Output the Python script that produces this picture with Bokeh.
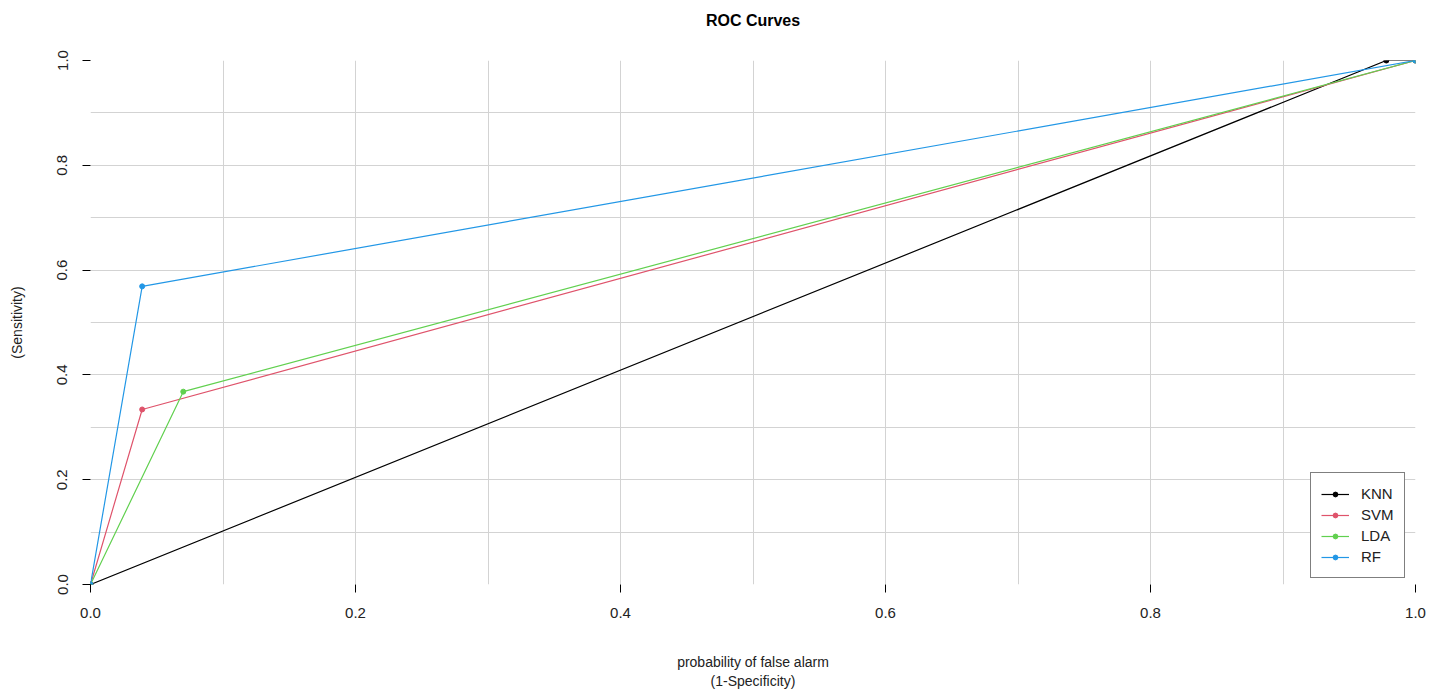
from bokeh.plotting import figure
from bokeh.models import Range1d, FixedTicker, PrintfTickFormatter, Legend, Title
from bokeh.embed import file_html
from bokeh.resources import INLINE

# Data (FPR, TPR) for each model
knn_fpr = [0.0, 0.978, 1.0]
knn_tpr = [0.0, 1.0, 1.0]
svm_fpr = [0.0, 0.039, 1.0]
svm_tpr = [0.0, 0.334, 1.0]
lda_fpr = [0.0, 0.070, 1.0]
lda_tpr = [0.0, 0.368, 1.0]
rf_fpr = [0.0, 0.039, 1.0]
rf_tpr = [0.0, 0.569, 1.0]

names = ["KNN", "SVM", "LDA", "RF"]
colors = ["#000000", "#DF536B", "#61D04F", "#2297E6"]
xs = [knn_fpr, svm_fpr, lda_fpr, rf_fpr]
ys = [knn_tpr, svm_tpr, lda_tpr, rf_tpr]

ticks = [0.0, 0.2, 0.4, 0.6, 0.8, 1.0]
grid_ticks = [i / 10 for i in range(11)]

FONT = "Liberation Sans"
FRAME_W, FRAME_H = 1325, 524

p = figure(frame_width=FRAME_W, frame_height=FRAME_H, output_backend="svg", toolbar_location=None,
           x_range=Range1d(0, 1), y_range=Range1d(0, 1),
           min_border_left=90, min_border_right=13, min_border_top=60, min_border_bottom=60)
p.outline_line_color = None
p.background_fill_color = "white"

# second (blank) line lifts the title towards the top of the page
p.title = Title(text="ROC Curves\n\u00a0", align="center",
                text_font=FONT, text_font_size="16px", text_line_height=1.3,
                text_font_style="bold", text_color="black", standoff=18)

for ax in (p.xaxis[0], p.yaxis[0]):
    ax.ticker = FixedTicker(ticks=ticks)
    ax.formatter = PrintfTickFormatter(format="%.1f")
    ax.axis_line_color = None
    ax.major_tick_line_color = "black"
    ax.major_tick_out = 8
    ax.major_tick_in = 0
    ax.minor_tick_line_color = None
    ax.major_label_text_font = FONT
    ax.major_label_text_font_size = "15px"
    ax.major_label_text_color = "#222222"
    ax.axis_label_text_font = FONT
    ax.axis_label_text_font_size = "14px"
    ax.axis_label_text_font_style = "normal"
    ax.axis_label_text_color = "#222222"

p.xaxis[0].axis_label = "probability of false alarm\n(1-Specificity)"
p.xaxis[0].major_label_standoff = 15
p.xaxis[0].axis_label_standoff = 33
p.yaxis[0].axis_label = "(Sensitivity)"
p.yaxis[0].major_label_orientation = "vertical"
p.yaxis[0].major_label_standoff = 15
p.yaxis[0].axis_label_standoff = 30

p.xgrid[0].ticker = FixedTicker(ticks=grid_ticks)
p.ygrid[0].ticker = FixedTicker(ticks=grid_ticks)
for g in (p.xgrid[0], p.ygrid[0]):
    g.grid_line_color = "#D3D3D3"
    g.grid_line_width = 1

items = []
for name, c, x, y in zip(names, colors, xs, ys):
    l = p.line(x, y, line_color=c, line_width=1.2)
    s = p.scatter(x, y, size=5, fill_color=c, line_color=c)
    items.append((name, [l, s]))

legend = Legend(items=items, location=(1220, 6),
                border_line_color="black", border_line_width=1,
                label_text_font=FONT, label_text_font_size="15px",
                label_text_color="#222222",
                glyph_width=28, glyph_height=12, label_height=21,
                spacing=0, padding=10, margin=0, label_standoff=12,
                background_fill_alpha=1.0)
p.add_layout(legend)

with open("out.html", "w") as f:
    f.write(file_html(p, INLINE))
